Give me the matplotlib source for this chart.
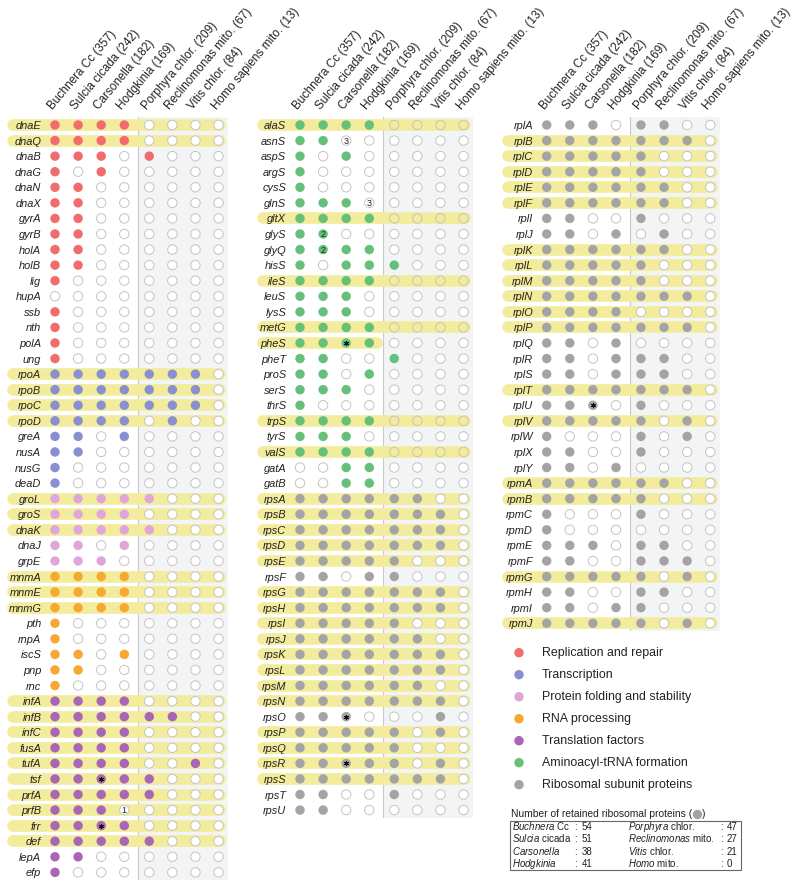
import matplotlib
matplotlib.use("Agg")
import matplotlib.pyplot as plt
from matplotlib.patches import Rectangle

plt.rcParams['font.family'] = ['Liberation Sans', 'DejaVu Sans']
plt.rcParams['mathtext.fontset'] = 'custom'
plt.rcParams['mathtext.rm'] = 'Liberation Sans'
plt.rcParams['mathtext.it'] = 'Liberation Sans:italic'

# ---- data -------------------------------------------------------------
species = ['Buchnera Cc (357)', 'Sulcia cicada (242)', 'Carsonella (182)',
           'Hodgkinia (169)', 'Porphyra chlor. (209)', 'Reclinomonas mito. (67)',
           'Vitis chlor. (84)', 'Homo sapiens mito. (13)']

categories = ['Replication and repair', 'Transcription', 'Protein folding and stability',
              'RNA processing', 'Translation factors', 'Aminoacyl-tRNA formation',
              'Ribosomal subunit proteins']
cat_colors = ['#f26b6d', '#8a8fd0', '#dfa7d9', '#f6a833', '#a866b4', '#66c07b', '#a4a4a4']

# one char per species: 1 = gene retained, 0 = absent
rep_genes = ['dnaE', 'dnaQ', 'dnaB', 'dnaG', 'dnaN', 'dnaX', 'gyrA', 'gyrB', 'holA', 'holB',
             'lig', 'hupA', 'ssb', 'nth', 'polA', 'ung']
rep_calls = ['11110000', '11110000', '11101000', '10100000', '11000000', '11000000',
             '11000000', '11000000', '11000000', '11000000', '10000000', '00000000',
             '10000000', '10000000', '10000000', '10000000']

tx_genes = ['rpoA', 'rpoB', 'rpoC', 'rpoD', 'greA', 'nusA', 'nusG', 'deaD']
tx_calls = ['11111110', '11111110', '11111110', '11110100', '11010000', '11000000',
            '10000000', '10000000']

fold_genes = ['groL', 'groS', 'dnaK', 'dnaJ', 'grpE']
fold_calls = ['11111000', '11110000', '11111000', '11010000', '11100000']

rna_genes = ['mnmA', 'mnmE', 'mnmG', 'pth', 'rnpA', 'iscS', 'pnp', 'rnc']
rna_calls = ['11110000', '11110000', '11110000', '10000000', '10000000', '11010000',
             '11000000', '10000000']

tl_genes = ['infA', 'infB', 'infC', 'fusA', 'tufA', 'tsf', 'prfA', 'prfB', 'frr', 'def',
            'lepA', 'efp']
tl_calls = ['11110000', '11111100', '11110000', '11110000', '11110010', '11111000',
            '11111000', '11100000', '11110000', '11111000', '11000000', '10000000']

aa_genes = ['alaS', 'asnS', 'aspS', 'argS', 'cysS', 'glnS', 'gltX', 'glyS', 'glyQ', 'hisS',
            'ileS', 'leuS', 'lysS', 'metG', 'pheS', 'pheT', 'proS', 'serS', 'thrS', 'trpS',
            'tyrS', 'valS', 'gatA', 'gatB']
aa_calls = ['11110000', '11000000', '10100000', '10000000', '10000000', '11100000',
            '11110000', '11000000', '11110000', '10111000', '11110000', '11100000',
            '11100000', '11110000', '11110000', '11001000', '11010000', '11100000',
            '10000000', '11110000', '11100000', '11110000', '00110000', '00110000']

rps_genes = ['rps' + c for c in 'ABCDEFGHIJKLMNOPQRSTU']
rps_calls = ['11111100', '11111110', '11111110', '11111110', '11111000', '11011000',
             '11111110', '11111110', '11111000', '11111100', '11111110', '11111110',
             '11111100', '11111110', '11100010', '11111010', '11111000', '11111010',
             '11111110', '11001000', '11000000']

rpl_genes = ['rpl' + c for c in 'ABCDEFIJKLMNOPQRSTUVWXY']
rpl_calls = ['11101100', '11111110', '11111000', '11111000', '11111100', '11111100',
             '11001000', '11010100', '11111100', '11111000', '11111000', '11111110',
             '11110000', '11111110', '11010000', '11011100', '11011100', '11111110',
             '11101000', '11111010', '10001010', '11001000', '11010000']

rpm_genes = ['rpm' + c for c in 'ABCDEFGHIJ']
rpm_calls = ['11111100', '11111000', '10001000', '10000000', '11101100', '11001110',
             '11111010', '11001100', '11011000', '11111010']

# genes shared by all four insect endosymbionts (yellow bands)
highlighted = ['dnaE', 'dnaQ', 'rpoA', 'rpoB', 'rpoC', 'rpoD', 'groL', 'groS', 'dnaK',
               'mnmA', 'mnmE', 'mnmG', 'infA', 'infB', 'infC', 'fusA', 'tufA', 'tsf',
               'prfA', 'prfB', 'frr', 'def',
               'alaS', 'gltX', 'ileS', 'metG', 'pheS', 'trpS', 'valS',
               'rpsA', 'rpsB', 'rpsC', 'rpsD', 'rpsE', 'rpsG', 'rpsH', 'rpsI', 'rpsJ',
               'rpsK', 'rpsL', 'rpsM', 'rpsN', 'rpsP', 'rpsQ', 'rpsR', 'rpsS',
               'rplB', 'rplC', 'rplD', 'rplE', 'rplF', 'rplK', 'rplL', 'rplM', 'rplN',
               'rplO', 'rplP', 'rplT', 'rplV', 'rpmA', 'rpmB', 'rpmG', 'rpmJ']
partial_band = ['pheS']
open_rows = ['alaS', 'gltX', 'ileS', 'metG', 'trpS', 'valS']

# special marks: (gene, species index, mark)
marks = [('tsf', 2, '*'), ('frr', 2, '*'), ('prfB', 3, '1'), ('asnS', 2, '3'),
         ('glnS', 3, '3'), ('glyS', 1, '2'), ('glyQ', 1, '2'), ('pheS', 2, '*'),
         ('rpsO', 2, '*'), ('rpsR', 2, '*'), ('rplU', 2, '*')]

panels = [
    [(rep_genes, rep_calls, 0), (tx_genes, tx_calls, 1), (fold_genes, fold_calls, 2),
     (rna_genes, rna_calls, 3), (tl_genes, tl_calls, 4)],
    [(aa_genes, aa_calls, 5), (rps_genes, rps_calls, 6)],
    [(rpl_genes, rpl_calls, 6), (rpm_genes, rpm_calls, 6)],
]

# ---- layout -----------------------------------------------------------
W, H = 800, 889
COL_W = 23.1
ROW_H = 15.57
Y0 = 125
panel_x0 = [55, 300, 546.7]
band_left = [-1.83, -1.62, -1.68]
band_right = 7.14
col_x = [0, 1, 2, 3, 4.08, 5.08, 6.08, 7.08]
yellow = '#f2ec9c'

fig = plt.figure(figsize=(8, 8.89), dpi=100)


def px_axes(x0, y0, x1, y1):
    return fig.add_axes([x0 / W, 1 - y1 / H, (x1 - x0) / W, (y1 - y0) / H])


ov = fig.add_axes([0, 0, 1, 1])
ov.set_xlim(0, W)
ov.set_ylim(H, 0)
ov.axis('off')
ov.patch.set_visible(False)

for p, groups in enumerate(panels):
    genes, calls, cats = [], [], []
    for g, c, k in groups:
        genes += g
        calls += c
        cats += [k] * len(g)
    n = len(genes)
    c0 = panel_x0[p]
    ax = px_axes(c0 - 0.5 * COL_W, Y0 - 0.5 * ROW_H, c0 + 7.5 * COL_W, Y0 + (n - 0.5) * ROW_H)
    ax.set_xlim(-0.5, 7.5)
    ax.set_ylim(n - 0.5, -0.5)
    ax.patch.set_visible(False)
    for s in ax.spines.values():
        s.set_visible(False)
    ax.axvspan(3.6, 7.5, color='#f3f4f6', lw=0, zorder=0)
    ax.axvline(3.6, color='#c9c9c9', lw=0.8, zorder=0.6)

    fx, fy, fc = [], [], []
    ex, ey, efc = [], [], []
    for i, g in enumerate(genes):
        if g in highlighted:
            x1 = 3.35 if g in partial_band else band_right
            ax.plot([band_left[p], x1], [i, i], lw=8.4, color=yellow,
                    solid_capstyle='round', zorder=1, clip_on=False)
        for j, v in enumerate(calls[i]):
            if v == '1':
                fx.append(col_x[j]); fy.append(i); fc.append(cat_colors[cats[i]])
            else:
                ex.append(col_x[j]); ey.append(i)
                efc.append('none' if (g in open_rows and j >= 4) else 'white')
    ax.scatter(ex, ey, s=46, facecolors=efc, edgecolors='#c4c4c4', linewidths=0.7, zorder=3)
    ax.scatter(fx, fy, s=46, c=fc, linewidths=0, zorder=3)

    for g, j, m in marks:
        if g in genes:
            i = genes.index(g)
            if m == '*':
                ax.scatter([col_x[j]], [i], marker=(6, 2, 0), s=9, color='#111111',
                           linewidths=0.8, zorder=4)
            else:
                ax.text(col_x[j], i + 0.05, m, ha='center', va='center', fontsize=6.5,
                        color='#222222', zorder=4)

    ax.set_yticks(range(n))
    ax.set_yticklabels(genes, style='italic', fontsize=7.9, color='#222222')
    ax.tick_params(axis='y', length=0, pad=1.5)
    ax.xaxis.tick_top()
    ax.set_xticks(col_x)
    ax.set_xticklabels(species, rotation=50, ha='left', rotation_mode='anchor',
                       fontsize=8.5, color='#222222')
    ax.tick_params(axis='x', length=0, pad=4)

# ---- legend -----------------------------------------------------------
leg_y = [652.7 + 22 * k for k in range(len(categories))]
ov.scatter([519] * len(categories), leg_y, s=46, c=cat_colors, linewidths=0)
for y, lab in zip(leg_y, categories):
    ov.text(541.5, y, lab, fontsize=8.9, va='center', ha='left', color='#222222')

# ---- ribosomal protein counts table -----------------------------------
ribo_calls = rps_calls + rpl_calls + rpm_calls
counts = [sum(int(c[j]) for c in ribo_calls) for j in range(len(species))]
tab_names = [r'$\mathit{Buchnera}$ Cc', r'$\mathit{Sulcia}$ cicada', r'$\mathit{Carsonella}$',
             r'$\mathit{Hodgkinia}$', r'$\mathit{Porphyra}$ chlor.',
             r'$\mathit{Reclinomonas}$ mito.', r'$\mathit{Vitis}$ chlor.', r'$\mathit{Homo}$ mito.']

title = ov.text(511, 817, 'Number of retained ribosomal proteins (', fontsize=7.4,
                va='baseline', ha='left', color='#222222')
fig.canvas.draw()
bb = title.get_window_extent(fig.canvas.get_renderer())
ov.scatter([bb.x1 + 5], [814], s=46, c=cat_colors[6], linewidths=0)
ov.text(bb.x1 + 10, 817, ')', fontsize=7.4, va='baseline', ha='left', color='#222222')

ov.add_patch(Rectangle((510, 820.7), 230.5, 49.3, fill=False, edgecolor='#666666', lw=0.8))
row_base = [830.2, 842.5, 854.8, 867.1]
for k in range(4):
    for side, (xn, xc, xv) in enumerate([(512, 574.5, 581.5), (627.5, 720, 726.5)]):
        idx = k + 4 * side
        ov.text(xn, row_base[k], tab_names[idx], fontsize=7.0, va='baseline', ha='left',
                color='#222222')
        ov.text(xc, row_base[k], ':', fontsize=7.0, va='baseline', ha='left', color='#222222')
        ov.text(xv, row_base[k], str(counts[idx]), fontsize=7.0, va='baseline', ha='left',
                color='#222222')

fig.savefig('out.png', dpi=100)
